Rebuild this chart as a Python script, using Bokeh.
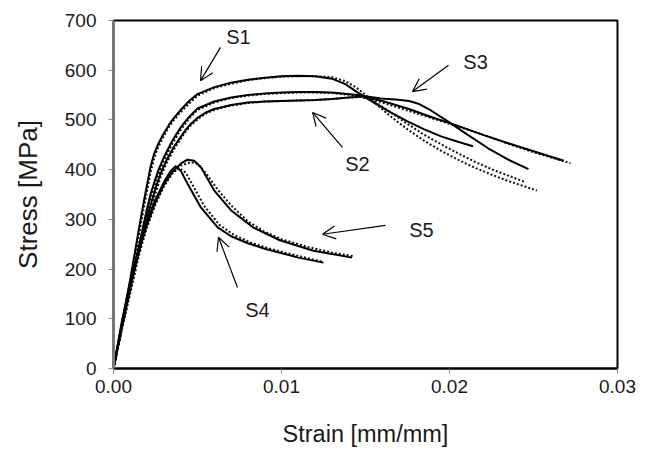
from bokeh.plotting import figure
from bokeh.models import Arrow, OpenHead, FixedTicker, CustomJSTickFormatter, ColumnDataSource
from bokeh.core.properties import value
from bokeh.embed import file_html
from bokeh.resources import INLINE

# ---- data (strain [mm/mm], stress [MPa]) ----
s1_exp_x = [0, 0.0005, 0.001, 0.0015, 0.0018, 0.002, 0.0022, 0.0024, 0.0026, 0.0028, 0.003, 0.0033, 0.0036, 0.004, 0.0045, 0.005, 0.006, 0.007, 0.008, 0.009, 0.010, 0.011, 0.012, 0.013, 0.0138, 0.0145, 0.0155, 0.0165, 0.0175, 0.0185, 0.0195, 0.0205, 0.0214]
s1_exp_y = [0, 90, 180, 278, 335, 370, 405, 430, 447, 461, 473, 490, 504, 520, 538, 552, 566, 575, 581, 585, 588, 589, 588, 583, 572, 556, 535, 515, 497, 481, 467, 456, 447]
s1_sim_x = [0, 0.0005, 0.001, 0.0015, 0.0018, 0.002, 0.0022, 0.0024, 0.0026, 0.0028, 0.003, 0.0033, 0.0036, 0.004, 0.005, 0.006, 0.007, 0.008, 0.009, 0.010, 0.011, 0.012, 0.013, 0.0138, 0.0145, 0.0155, 0.0165, 0.0175, 0.0185, 0.0195, 0.0205, 0.0215, 0.0225, 0.0235, 0.0245, 0.0252]
s1_sim_y = [0, 86, 172, 266, 322, 358, 393, 420, 440, 455, 468, 486, 500, 516, 549, 564, 573, 580, 584, 587, 588, 588, 586, 578, 564, 536, 507, 481, 458, 438, 420, 404, 390, 377, 366, 358]

s2_exp_x = [0, 0.0005, 0.001, 0.0015, 0.002, 0.0025, 0.0028, 0.0032, 0.0036, 0.004, 0.0043, 0.0046, 0.005, 0.0055, 0.006, 0.007, 0.008, 0.009, 0.010, 0.011, 0.012, 0.013, 0.014, 0.0148, 0.016, 0.0175, 0.019, 0.0205, 0.022, 0.0235, 0.025, 0.0268]
s2_exp_y = [0, 82, 160, 235, 305, 362, 392, 422, 446, 466, 480, 492, 504, 515, 522, 530, 535, 537, 538, 539, 540, 542, 545, 547, 538, 523, 505, 488, 470, 453, 437, 418]
s2_sim_x = [0, 0.0005, 0.001, 0.0015, 0.002, 0.0025, 0.0028, 0.0032, 0.0036, 0.004, 0.0043, 0.0046, 0.005, 0.0055, 0.006, 0.007, 0.008, 0.009, 0.010, 0.011, 0.012, 0.013, 0.014, 0.0148, 0.016, 0.0175, 0.019, 0.0205, 0.022, 0.0235, 0.025, 0.0262, 0.0272]
s2_sim_y = [0, 78, 152, 225, 295, 352, 385, 416, 441, 462, 477, 489, 501, 513, 520, 529, 534, 537, 538, 539, 540, 542, 545, 546, 535, 519, 503, 487, 470, 452, 435, 423, 413]

s3_exp_x = [0, 0.0005, 0.001, 0.0015, 0.002, 0.0022, 0.0025, 0.0027, 0.003, 0.0035, 0.004, 0.0045, 0.005, 0.006, 0.007, 0.008, 0.009, 0.010, 0.011, 0.012, 0.013, 0.0145, 0.0159, 0.0168, 0.0176, 0.0182, 0.0189, 0.0199, 0.021, 0.0223, 0.0235, 0.0247]
s3_exp_y = [0, 85, 165, 245, 322, 350, 382, 401, 425, 458, 485, 506, 523, 537, 545, 550, 553, 555, 556, 556, 555, 550, 543, 541, 538, 532, 519, 497, 472, 443, 420, 401]
s3_sim_x = [0, 0.0005, 0.001, 0.0015, 0.002, 0.0022, 0.0025, 0.0027, 0.003, 0.0035, 0.004, 0.0045, 0.005, 0.006, 0.007, 0.008, 0.009, 0.010, 0.011, 0.012, 0.013, 0.0145, 0.0155, 0.0165, 0.0175, 0.0185, 0.0195, 0.0205, 0.0215, 0.0225, 0.0235, 0.0245]
s3_sim_y = [0, 80, 158, 236, 312, 340, 372, 392, 418, 452, 480, 503, 520, 535, 544, 549, 552, 554, 555, 555, 554, 549, 538, 515, 492, 470, 451, 433, 416, 401, 388, 375]

s4_exp_x = [0, 0.0005, 0.001, 0.0015, 0.002, 0.0025, 0.003, 0.0034, 0.0037, 0.004, 0.0044, 0.0052, 0.0062, 0.007, 0.008, 0.009, 0.0099, 0.011, 0.0125]
s4_exp_y = [0, 95, 175, 240, 295, 340, 375, 397, 407, 398, 372, 324, 284, 266, 252, 241, 233, 223, 213]
s4_sim_x = [0, 0.0005, 0.001, 0.0015, 0.002, 0.0025, 0.003, 0.0035, 0.0039, 0.0043, 0.0047, 0.0054, 0.0063, 0.0072, 0.0082, 0.0092, 0.0102, 0.0113, 0.0124]
s4_sim_y = [0, 88, 168, 232, 288, 334, 370, 395, 403, 394, 370, 327, 289, 268, 253, 242, 233, 224, 215]

s5_exp_x = [0, 0.0005, 0.001, 0.0015, 0.002, 0.0025, 0.003, 0.0035, 0.004, 0.0044, 0.0048, 0.0052, 0.006, 0.007, 0.0083, 0.0099, 0.0119, 0.0142]
s5_exp_y = [0, 90, 170, 235, 290, 335, 370, 395, 412, 420, 418, 405, 358, 318, 284, 258, 237, 223]
s5_sim_x = [0, 0.0005, 0.001, 0.0015, 0.002, 0.0025, 0.003, 0.0035, 0.004, 0.0046, 0.005, 0.0055, 0.0062, 0.007, 0.008, 0.009, 0.010, 0.0115, 0.013, 0.0143]
s5_sim_y = [0, 84, 162, 228, 284, 330, 366, 392, 408, 415, 412, 393, 360, 328, 296, 275, 260, 245, 233, 226]

# annotation labels and arrows (label position, arrow tail, arrow tip)
labels = ["S1", "S2", "S3", "S4", "S5"]
label_x = [0.00744, 0.01452, 0.02155, 0.00857, 0.01833]
label_y = [666, 412, 616, 117, 278]
tail_x = [0.00637, 0.01363, 0.01994, 0.00738, 0.01619]
tail_y = [646, 445, 610, 163, 288]
tip_x = [0.00518, 0.01185, 0.01780, 0.00625, 0.01244]
tip_y = [579, 515, 557, 264, 270]

x_ticks = [0.0, 0.01, 0.02, 0.03]
y_ticks = [0, 100, 200, 300, 400, 500, 600, 700]

FONT = "Liberation Sans"
TXT = "#1a1a1a"

p = figure(width=651, height=450, output_backend="svg", toolbar_location=None,
           x_range=(0, 0.03), y_range=(0, 700),
           min_border_left=113, min_border_right=34, min_border_top=20, min_border_bottom=82)
p.background_fill_color = "white"
p.border_fill_color = "white"
p.outline_line_color = "black"
p.outline_line_width = 2
p.grid.visible = False

p.xaxis.ticker = FixedTicker(ticks=x_ticks)
p.yaxis.ticker = FixedTicker(ticks=y_ticks)
p.xaxis.formatter = CustomJSTickFormatter(code="return tick.toFixed(2);")
for ax in (p.xaxis[0], p.yaxis[0]):
    ax.major_label_text_font = FONT
    ax.major_label_text_font_size = "19px"
    ax.major_label_text_color = TXT
    ax.axis_label_text_font = FONT
    ax.axis_label_text_font_style = "normal"
    ax.axis_label_text_color = TXT
    ax.major_tick_in = 0
    ax.major_tick_out = 5
    ax.minor_tick_in = 0
    ax.minor_tick_out = 0
    ax.major_tick_line_color = "#888888"
p.xaxis.axis_label_text_font_size = "23.5px"
p.yaxis.axis_label_text_font_size = "26px"
p.yaxis.axis_line_color = "#777777"
p.yaxis.axis_line_width = 3
p.xaxis.axis_line_color = "black"
p.xaxis.axis_line_width = 2
p.xaxis.axis_label = "Strain [mm/mm]"
p.yaxis.axis_label = "Stress [MPa]"
p.yaxis.major_label_standoff = 12
p.xaxis.major_label_standoff = 6
p.yaxis.axis_label_standoff = 19
p.xaxis.axis_label_standoff = 25

curves = [
    (s1_exp_x, s1_exp_y, s1_sim_x, s1_sim_y),
    (s2_exp_x, s2_exp_y, s2_sim_x, s2_sim_y),
    (s3_exp_x, s3_exp_y, s3_sim_x, s3_sim_y),
    (s4_exp_x, s4_exp_y, s4_sim_x, s4_sim_y),
    (s5_exp_x, s5_exp_y, s5_sim_x, s5_sim_y),
]
for ex, ey, sx, sy in curves:
    p.line(sx, sy, line_color="#111111", line_width=2, line_dash="2 2", line_join="round")
    p.line(ex, ey, line_color="black", line_width=2, line_join="round")

for i in range(len(labels)):
    p.add_layout(Arrow(end=OpenHead(size=13, line_width=1.2, line_color="black"),
                       x_start=tail_x[i], y_start=tail_y[i], x_end=tip_x[i], y_end=tip_y[i],
                       line_width=1.2, line_color="black"))

src = ColumnDataSource(dict(x=label_x, y=label_y, t=labels))
p.text(x="x", y="y", text="t", source=src, text_font=value(FONT), text_font_size="20px",
       text_color=TXT, text_align="center", text_baseline="middle")

open("out.html", "w").write(file_html(p, INLINE))
